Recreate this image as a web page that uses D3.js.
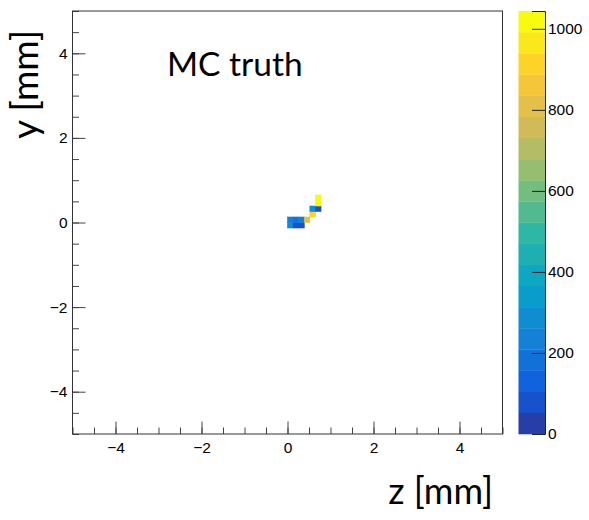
<!DOCTYPE html>
<html>
<head>
<meta charset="utf-8">
<script src="https://cdn.jsdelivr.net/npm/d3@7"></script>
<style>
  body { margin: 0; background: #fff; }
  .tick text { font-family: "Liberation Sans", Arial, sans-serif; font-size: 15.5px; fill: #000; }
  .title { font-family: Lato, "Noto Sans", sans-serif; fill: #000; }
</style>
</head>
<body>
<svg id="chart"></svg>
<script>
// histogram binning (mm)
const binWidth = 0.13;
// lower-left corner of each filled bin (z, y) in mm and its content
const cellZ = [0, 0.13, 0.26, 0, 0.13, 0.26, 0.39, 0.52, 0.52, 0.65, 0.65, 0.65];
const cellY = [-0.13, -0.13, -0.13, 0, 0, 0, 0, 0.13, 0.26, 0.26, 0.39, 0.52];
const cellCounts = [270, 70, 80, 210, 200, 220, 800, 930, 290, 70, 1000, 1044];

const majorTicks = [-4, -2, 0, 2, 4];
const minorTicks = d3.range(-5, 5.001, 0.5);
const colorTicks = [0, 200, 400, 600, 800, 1000];
const nLevels = 20;

// ROOT kBird palette
const birdStops = [0.0, 0.125, 0.25, 0.375, 0.5, 0.625, 0.75, 0.875, 1.0];
const birdRed = [0.2082, 0.0592, 0.0780, 0.0232, 0.1802, 0.5301, 0.8186, 0.9956, 0.9764];
const birdGreen = [0.1664, 0.3599, 0.5041, 0.6419, 0.7178, 0.7492, 0.7328, 0.7862, 0.9832];
const birdBlue = [0.5293, 0.8684, 0.8385, 0.7914, 0.6425, 0.4662, 0.3499, 0.1968, 0.0539];

const width = 589, height = 520;
const frame = { left: 72.5, right: 502.5, top: 11, bottom: 434 };
const bar = { left: 518.5, right: 545 };

const svg = d3.select('#chart')
    .attr('width', width)
    .attr('height', height);

svg.append('rect')
    .attr('width', width).attr('height', height)
    .attr('fill', '#fff');

const x = d3.scaleLinear().domain([-5, 5]).range([frame.left, frame.right]);
const y = d3.scaleLinear().domain([-5, 5]).range([frame.bottom, frame.top]);

const zMax = d3.max(cellCounts);
const z = d3.scaleLinear().domain([0, zMax]).range([frame.bottom, frame.top]);

const palette = d3.scaleLinear()
    .domain(birdStops)
    .range(birdStops.map((s, i) => d3.rgb(birdRed[i] * 255, birdGreen[i] * 255, birdBlue[i] * 255)));

// colour of contour level i, like THistPainter does it
function levelColor(i) {
    const idx = Math.floor((i + 0.99) * 255 / nLevels);
    return palette(idx / 254);
}
function cellColor(v) {
    const lvl = Math.min(nLevels - 1, Math.floor(v / zMax * nLevels));
    return levelColor(lvl);
}

// cells
const cells = cellCounts.map((c, i) => ({ z: cellZ[i], y: cellY[i], count: c }));
svg.append('g')
    .selectAll('rect')
    .data(cells)
    .join('rect')
    .attr('x', d => x(d.z))
    .attr('y', d => y(d.y + binWidth))
    .attr('width', d => x(d.z + binWidth) - x(d.z))
    .attr('height', d => y(d.y) - y(d.y + binWidth))
    .attr('fill', d => cellColor(d.count))
    .attr('stroke', d => cellColor(d.count))
    .attr('stroke-width', 0.6);

// minor ticks
svg.append('g')
    .attr('class', 'axis')
    .attr('transform', `translate(0,${frame.bottom})`)
    .call(d3.axisBottom(x).tickValues(minorTicks).tickSize(-6.5).tickFormat(''))
    .call(g => g.select('.domain').remove());
svg.append('g')
    .attr('class', 'axis')
    .attr('transform', `translate(${frame.left},0)`)
    .call(d3.axisLeft(y).tickValues(minorTicks).tickSize(-6.5).tickFormat(''))
    .call(g => g.select('.domain').remove());

// major ticks with labels
svg.append('g')
    .attr('class', 'axis x-axis')
    .attr('transform', `translate(0,${frame.bottom})`)
    .call(d3.axisBottom(x).tickValues(majorTicks).tickSize(-12.5).tickPadding(8))
    .call(g => g.select('.domain').remove());
svg.append('g')
    .attr('class', 'axis y-axis')
    .attr('transform', `translate(${frame.left},0)`)
    .call(d3.axisLeft(y).tickValues(majorTicks).tickSize(-13).tickPadding(5))
    .call(g => g.select('.domain').remove());

svg.selectAll('.axis line').attr('stroke', '#444');

// frame
svg.append('rect')
    .attr('x', frame.left).attr('y', frame.top)
    .attr('width', frame.right - frame.left)
    .attr('height', frame.bottom - frame.top)
    .attr('fill', 'none')
    .attr('stroke', '#333')
    .attr('stroke-width', 1);

// colour bar
const bands = d3.range(nLevels);
svg.append('g')
    .selectAll('rect')
    .data(bands)
    .join('rect')
    .attr('x', bar.left)
    .attr('y', i => z((i + 1) * zMax / nLevels))
    .attr('width', bar.right - bar.left)
    .attr('height', i => z(i * zMax / nLevels) - z((i + 1) * zMax / nLevels) + 0.3)
    .attr('fill', i => levelColor(i));

svg.append('g')
    .attr('class', 'axis z-axis')
    .attr('transform', `translate(${bar.right},0)`)
    .call(d3.axisRight(z).tickValues(colorTicks).tickSize(-13).tickPadding(3).tickFormat(d3.format('d')))
    .call(g => g.select('.domain').attr('stroke', '#222'))
    .call(g => g.selectAll('line').attr('stroke', '#222'));

// titles
svg.append('text')
    .attr('class', 'title')
    .attr('x', 167)
    .attr('y', 76)
    .style('font-size', '33.5px')
    .text('MC truth');

svg.append('text')
    .attr('class', 'title')
    .attr('x', 493)
    .attr('y', 504)
    .attr('text-anchor', 'end')
    .style('font-size', '36px')
    .text('z [mm]');

svg.append('text')
    .attr('class', 'title')
    .attr('transform', 'translate(38,30) rotate(-90)')
    .attr('text-anchor', 'end')
    .style('font-size', '37px')
    .text('y [mm]');
</script>
</body>
</html>
